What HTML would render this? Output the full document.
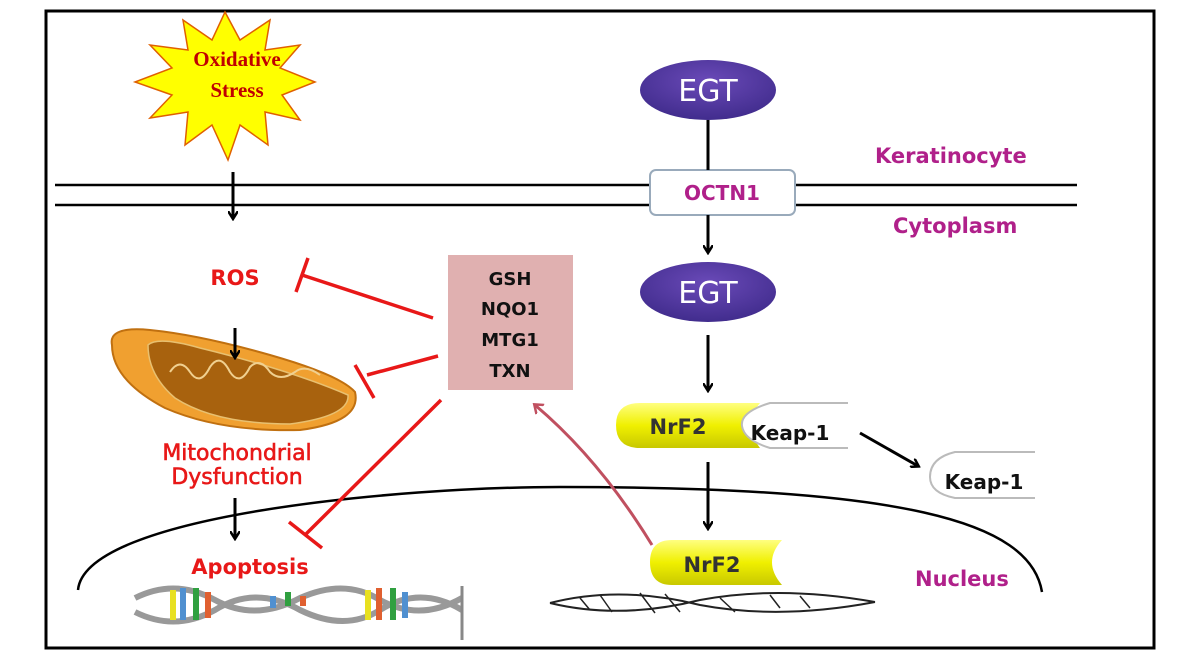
<!DOCTYPE html>
<html><head><meta charset="utf-8"><style>
body{margin:0;background:#fff;width:1200px;height:661px;overflow:hidden}
svg{display:block}
text{font-family:"DejaVu Sans","Liberation Sans",sans-serif;font-weight:bold}
</style></head><body>
<svg width="1200" height="661" viewBox="0 0 1200 661">
<defs>
<marker id="a" markerWidth="10" markerHeight="10" refX="7" refY="5" orient="auto" markerUnits="userSpaceOnUse"><path d="M0,0 L8,5 L0,10" fill="none" stroke="#000" stroke-width="2.5"/></marker>
<marker id="ar" markerWidth="14" markerHeight="14" refX="7" refY="7" orient="auto" markerUnits="userSpaceOnUse"><path d="M0,1 L8,7 L0,13" fill="none" stroke="#c05060" stroke-width="2.5"/></marker>
<linearGradient id="y" x1="0" y1="0" x2="0" y2="1"><stop offset="0" stop-color="#ffff80"/><stop offset="0.5" stop-color="#f0f000"/><stop offset="1" stop-color="#c8c800"/></linearGradient>
<radialGradient id="eg" cx="0.5" cy="0.35" r="0.7"><stop offset="0" stop-color="#6a4ab8"/><stop offset="1" stop-color="#3e2a8a"/></radialGradient>
</defs>
<rect x="46" y="11" width="1108" height="637" fill="#fff" stroke="#000" stroke-width="3"/>
<!-- star -->
<polygon points="225,12 240,40 270,20 265,50 300,45 280,68 315,82 282,95 300,120 265,112 268,145 240,125 228,160 212,125 185,145 188,112 150,118 172,95 135,82 172,68 150,45 188,50 183,20 212,40" fill="#ffff00" stroke="#e06000" stroke-width="1.5"/>
<text x="237" y="66" font-size="21" fill="#c00000" text-anchor="middle" style="font-family:'Liberation Serif',serif">Oxidative</text>
<text x="237" y="97" font-size="21" fill="#c00000" text-anchor="middle" style="font-family:'Liberation Serif',serif">Stress</text>
<!-- membrane -->
<line x1="55" y1="185" x2="1077" y2="185" stroke="#000" stroke-width="2.5"/>
<line x1="55" y1="205" x2="1077" y2="205" stroke="#000" stroke-width="2.5"/>
<rect x="650" y="170" width="145" height="45" rx="6" fill="#fff" stroke="#9ab" stroke-width="2"/>
<text x="722" y="200" font-size="20" fill="#b0208a" text-anchor="middle">OCTN1</text>
<text x="875" y="163" font-size="21" fill="#b0208a">Keratinocyte</text>
<text x="893" y="233" font-size="21" fill="#b0208a">Cytoplasm</text>
<!-- EGT -->
<ellipse cx="708" cy="90" rx="68" ry="30" fill="url(#eg)"/>
<text x="708" y="101" font-size="30" fill="#fff" text-anchor="middle" style="font-weight:normal">EGT</text>
<line x1="708" y1="120" x2="708" y2="170" stroke="#000" stroke-width="3"/>
<line x1="708" y1="215" x2="708" y2="252" stroke="#000" stroke-width="3" marker-end="url(#a)"/>
<ellipse cx="708" cy="292" rx="68" ry="30" fill="url(#eg)"/>
<text x="708" y="303" font-size="30" fill="#fff" text-anchor="middle" style="font-weight:normal">EGT</text>
<line x1="708" y1="335" x2="708" y2="390" stroke="#000" stroke-width="3" marker-end="url(#a)"/>
<!-- NrF2 Keap -->
<path d="M640,403 H760 Q742,424 760,448 H640 Q616,448 616,425 Q616,403 640,403Z" fill="url(#y)"/>
<text x="678" y="434" font-size="21" fill="#333" text-anchor="middle">NrF2</text>
<path d="M848,403 H770 Q740,412 742,426 Q744,440 770,448 H848" fill="#fff" stroke="#bbb" stroke-width="2"/>
<text x="790" y="440" font-size="20" fill="#111" text-anchor="middle">Keap-1</text>
<line x1="860" y1="433" x2="918" y2="466" stroke="#000" stroke-width="3" marker-end="url(#a)"/>
<path d="M1035,452 H955 Q930,458 930,477 Q930,493 955,498 H1035" fill="#fff" stroke="#bbb" stroke-width="2"/>
<text x="984" y="489" font-size="20" fill="#111" text-anchor="middle">Keap-1</text>
<line x1="708" y1="462" x2="708" y2="528" stroke="#000" stroke-width="3" marker-end="url(#a)"/>
<!-- nucleus -->
<path d="M78,590 C85,515 400,487 560,487 C900,487 1030,520 1042,592" fill="none" stroke="#000" stroke-width="2.5"/>
<text x="915" y="586" font-size="21" fill="#b0208a">Nucleus</text>
<path d="M672,540 H782 Q762,562 782,585 H672 Q650,585 650,562 Q650,540 672,540Z" fill="url(#y)"/>
<text x="712" y="572" font-size="21" fill="#333" text-anchor="middle">NrF2</text>
<!-- DNA right -->
<path d="M550,603 Q620,585 700,605 Q780,620 875,602" fill="none" stroke="#222" stroke-width="2"/>
<path d="M550,603 Q620,620 700,600 Q780,585 875,602" fill="none" stroke="#222" stroke-width="2"/>
<g stroke="#222" stroke-width="1.5"><line x1="580" y1="598" x2="590" y2="610"/><line x1="600" y1="595" x2="612" y2="612"/><line x1="640" y1="593" x2="655" y2="613"/><line x1="665" y1="594" x2="680" y2="612"/><line x1="720" y1="598" x2="735" y2="612"/><line x1="770" y1="595" x2="780" y2="608"/><line x1="800" y1="596" x2="810" y2="608"/></g>
<!-- red curved arrow -->
<path d="M652,545 Q600,460 535,405" fill="none" stroke="#c05060" stroke-width="3" marker-end="url(#ar)"/>
<!-- pink box -->
<rect x="448" y="255" width="125" height="135" fill="#e0b0b0"/>
<text x="510" y="285" font-size="18" fill="#111" text-anchor="middle">GSH</text>
<text x="510" y="315" font-size="18" fill="#111" text-anchor="middle">NQO1</text>
<text x="510" y="346" font-size="18" fill="#111" text-anchor="middle">MTG1</text>
<text x="510" y="377" font-size="18" fill="#111" text-anchor="middle">TXN</text>
<!-- inhibitors -->
<g stroke="#e81818" stroke-width="3.5" fill="none">
<line x1="433" y1="318" x2="302" y2="275"/><line x1="296" y1="292" x2="308" y2="258"/>
<line x1="438" y1="356" x2="367" y2="375"/><line x1="355" y1="365" x2="374" y2="398"/>
<line x1="441" y1="400" x2="305" y2="535"/><line x1="289" y1="522" x2="322" y2="548"/>
</g>
<!-- left chain -->
<line x1="233" y1="172" x2="233" y2="218" stroke="#000" stroke-width="3" marker-end="url(#a)"/>
<text x="235" y="285" font-size="21" fill="#e81818" text-anchor="middle">ROS</text>
<!-- mitochondrion -->
<path d="M112,345 Q108,326 150,330 Q200,335 270,355 Q340,375 355,392 Q362,422 300,430 Q220,432 165,408 Q112,380 112,345Z" fill="#f0a030" stroke="#c07010" stroke-width="2"/>
<path d="M148,345 Q158,336 200,348 Q290,370 348,395 Q350,416 290,424 Q215,424 175,398 Q148,375 148,345Z" fill="#a8620e" stroke="#e8c070" stroke-width="1.5"/>
<path d="M170,372 q10,-15 20,0 q10,15 20,-5 q10,-15 20,5 q10,15 20,-5 q10,-10 20,5 q10,10 25,0 q10,-8 25,3" fill="none" stroke="#f0d090" stroke-width="2"/>
<line x1="235" y1="328" x2="235" y2="357" stroke="#000" stroke-width="3" marker-end="url(#a)"/>
<text x="237" y="460" font-size="22" fill="#e81818" text-anchor="middle" style="font-weight:normal;stroke:#e81818;stroke-width:0.6">Mitochondrial</text>
<text x="237" y="484" font-size="22" fill="#e81818" text-anchor="middle" style="font-weight:normal;stroke:#e81818;stroke-width:0.6">Dysfunction</text>
<line x1="235" y1="498" x2="235" y2="538" stroke="#000" stroke-width="3" marker-end="url(#a)"/>
<text x="250" y="574" font-size="21" fill="#e81818" text-anchor="middle">Apoptosis</text>
<!-- DNA left -->
<g>
<path d="M135,598 Q175,578 215,600 Q255,622 300,598 Q345,578 380,600 Q420,622 462,598" fill="none" stroke="#999" stroke-width="6"/>
<path d="M135,612 Q175,632 215,610 Q255,585 300,610 Q345,632 380,610 Q420,585 462,610" fill="none" stroke="#999" stroke-width="6"/>
<rect x="170" y="590" width="6" height="30" fill="#e8e020"/><rect x="180" y="588" width="6" height="32" fill="#5090d0"/><rect x="193" y="588" width="6" height="32" fill="#30a040"/><rect x="205" y="592" width="6" height="26" fill="#e06030"/>
<rect x="270" y="596" width="6" height="12" fill="#5090d0"/><rect x="285" y="592" width="6" height="14" fill="#30a040"/><rect x="300" y="596" width="6" height="10" fill="#e06030"/>
<rect x="365" y="590" width="6" height="30" fill="#e8e020"/><rect x="376" y="588" width="6" height="32" fill="#e06030"/><rect x="390" y="588" width="6" height="32" fill="#30a040"/><rect x="402" y="592" width="6" height="26" fill="#5090d0"/>
<line x1="462" y1="586" x2="462" y2="640" stroke="#888" stroke-width="3"/>
</g>
</svg>
</body></html>
